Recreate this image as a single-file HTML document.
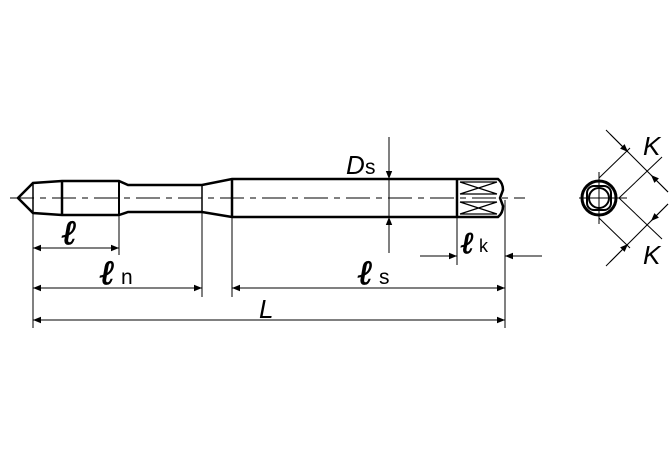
<!DOCTYPE html>
<html><head><style>body{margin:0;background:#fff}svg{display:block}</style></head><body>
<svg width="670" height="460" viewBox="0 0 670 460" xmlns="http://www.w3.org/2000/svg" font-family="Liberation Sans, sans-serif">
<defs><marker id="a" viewBox="0 0 10 10" refX="10" refY="5" markerWidth="10" markerHeight="8" orient="auto-start-reverse" markerUnits="userSpaceOnUse"><path d="M0,1 L10,5 L0,9z" fill="#000"/></marker></defs>
<g fill="none" stroke="#000">
<path d="M18,198 L33,183 L62,181 L119,181 L128,185 L202,185 L232,179 L498,179 Q503,183 503,190 L500,198 L503,206 Q503,213 498,217 L232,217 L202,212 L128,212 L119,215 L62,215 L33,213 Z" stroke-width="2.5"/>
<line x1="33" y1="183" x2="33" y2="213" stroke-width="1.5"/>
<line x1="62" y1="181" x2="62" y2="215" stroke-width="2.5"/>
<line x1="119" y1="181" x2="119" y2="215" stroke-width="2"/>
<line x1="202" y1="185" x2="202" y2="212" stroke-width="1.5"/>
<line x1="232" y1="179" x2="232" y2="217" stroke-width="2.5"/>
<line x1="457" y1="179" x2="457" y2="217" stroke-width="2.5"/>
<path d="M460,182 L497,194 M460,194 L497,182 M460,202 L497,214 M460,214 L497,202 M460,182 H497 M460,194 H497 M460,202 H497 M460,214 H497" stroke-width="1.2"/>
<line x1="10" y1="198" x2="525" y2="198" stroke-width="1" stroke-dasharray="24,6,6,6"/>
<g stroke-width="1">
<line x1="33" y1="213" x2="33" y2="328"/>
<line x1="119" y1="215" x2="119" y2="255"/>
<line x1="202" y1="212" x2="202" y2="297"/>
<line x1="232" y1="217" x2="232" y2="297"/>
<line x1="457" y1="217" x2="457" y2="265"/>
<line x1="505" y1="200" x2="505" y2="328"/>
<line x1="33" y1="248" x2="119" y2="248" marker-start="url(#a)" marker-end="url(#a)"/>
<line x1="33" y1="288" x2="202" y2="288" marker-start="url(#a)" marker-end="url(#a)"/>
<line x1="232" y1="288" x2="505" y2="288" marker-start="url(#a)" marker-end="url(#a)"/>
<line x1="33" y1="320" x2="505" y2="320" marker-start="url(#a)" marker-end="url(#a)"/>
<line x1="420" y1="256" x2="457" y2="256" marker-end="url(#a)"/>
<line x1="542" y1="256" x2="505" y2="256" marker-end="url(#a)"/>
<line x1="389" y1="137" x2="389" y2="179" marker-end="url(#a)"/>
<line x1="389" y1="253" x2="389" y2="217" marker-end="url(#a)"/>
<line x1="389" y1="179" x2="389" y2="217"/>
</g>
<circle cx="599" cy="198" r="17" stroke-width="3"/>
<rect x="587" y="186" width="24" height="24" rx="7" stroke-width="2"/>
<circle cx="599" cy="198" r="10" stroke-width="2"/>
<g stroke-width="1">
<line x1="579" y1="198" x2="627" y2="198"/>
<line x1="599" y1="172" x2="599" y2="224"/>
<line x1="599" y1="178" x2="630" y2="148"/>
<line x1="619" y1="198" x2="662" y2="157"/>
<line x1="599" y1="218" x2="630" y2="248"/>
<line x1="619" y1="198" x2="662" y2="239"/>
<line x1="606" y1="130" x2="668" y2="192"/>
<line x1="606" y1="266" x2="668" y2="204"/>
<line x1="610" y1="134" x2="628" y2="152" marker-end="url(#a)"/>
<line x1="668" y1="192" x2="651" y2="175" marker-end="url(#a)"/>
<line x1="610" y1="262" x2="628" y2="244" marker-end="url(#a)"/>
<line x1="668" y1="204" x2="651" y2="221" marker-end="url(#a)"/>
</g>
</g>
<g fill="#000" stroke="#000" stroke-width="1">
<text x="62" y="244" font-size="34" font-weight="bold" font-style="italic" font-family="DejaVu Serif, serif">ℓ</text>
<text x="100" y="284" font-size="34" font-weight="bold" font-style="italic" font-family="DejaVu Serif, serif">ℓ</text>
<text x="358" y="284" font-size="34" font-weight="bold" font-style="italic" font-family="DejaVu Serif, serif">ℓ</text>
<text x="461" y="253" font-size="30" font-weight="bold" font-style="italic" font-family="DejaVu Serif, serif">ℓ</text>
</g>
<g fill="#000">
<text x="121" y="284" font-size="21">n</text>
<text x="379" y="284" font-size="21">s</text>
<text x="479" y="252" font-size="18">k</text>
<text x="259" y="318" font-size="26" font-style="italic">L</text>
<text x="346" y="174" font-size="26" font-style="italic">D</text><text x="365" y="174" font-size="21">s</text>
<text x="643" y="155" font-size="26" font-style="italic">K</text>
<text x="643" y="264" font-size="26" font-style="italic">K</text>
</g>
</svg>
</body></html>
